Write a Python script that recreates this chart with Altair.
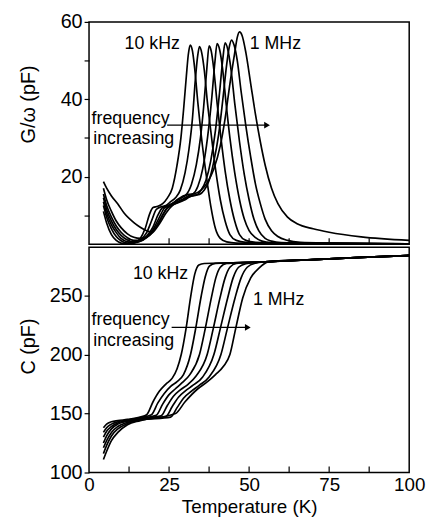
import altair as alt
import pandas as pd

freqs = ["10 kHz", "20 kHz", "50 kHz", "100 kHz", "200 kHz", "500 kHz", "1 MHz"]

# ---- G/omega (pF) curves, top panel ----
g_t_1 = [4.5, 5.5, 7, 8.5, 10, 12, 14, 16, 17.5, 19, 20, 21.5, 23, 24.5, 26, 27.5, 28.7, 29.6, 30.4, 31, 31.6, 32.3, 33, 34, 35, 36.5, 38, 39.5, 41, 43, 46, 55, 100]
g_v_1 = [11, 8, 5, 3.5, 2.8, 2.6, 2.8, 4, 6.5, 10.5, 12, 12.3, 13, 14.5, 17, 23, 30, 38, 46, 51.5, 54, 52.5, 48, 39, 31, 21, 12.5, 6.5, 4, 3.1, 2.8, 2.7, 2.6]
g_t_2 = [4.5, 5.5, 7, 8.5, 10, 12, 14, 16, 18, 19.5, 21, 22.5, 24, 25.5, 27, 28.5, 30, 31.2, 32.3, 33.2, 33.9, 34.5, 35.2, 36, 37, 38, 39.5, 41, 42.5, 44, 46, 49, 56, 100]
g_v_2 = [12.5, 9.5, 6.5, 4.5, 3.4, 2.8, 2.9, 3.6, 5.5, 8.5, 11.5, 12.2, 12.5, 13.5, 14.5, 16.5, 21, 27, 35, 45, 51, 53.6, 52, 47.5, 39, 32, 22, 14, 8.5, 5, 3.5, 3, 2.8, 2.6]
g_t_3 = [4.5, 5.5, 7, 8.5, 10, 12, 14, 16, 18, 20, 21.5, 23, 24.5, 26, 27.5, 29, 30.5, 32, 33.5, 34.8, 35.8, 36.8, 37.5, 38.2, 39, 40, 41.2, 42.5, 44, 45.5, 47, 49, 52, 60, 100]
g_v_3 = [13.5, 10.5, 7.5, 5.5, 4, 3.1, 2.9, 3.3, 4.6, 7, 10, 12, 12.4, 13, 14, 14.8, 15.5, 18, 23, 30, 38, 48, 53.8, 52.3, 47.5, 39, 30, 21.5, 14, 8.5, 5, 3.5, 3, 2.8, 2.6]
g_t_4 = [4.5, 5.5, 7, 8.5, 10, 12, 14, 16, 18, 20, 22, 23.5, 25, 26.5, 28, 29.5, 31, 32.5, 34, 35.5, 37, 38.3, 39.3, 40, 40.8, 41.7, 42.8, 44, 45.5, 47, 48.5, 50, 52, 54, 57, 65, 100]
g_v_4 = [14.5, 11.5, 8.5, 6.3, 4.8, 3.6, 3.1, 3.3, 4.3, 6.3, 9.5, 11.8, 12.5, 13, 13.6, 14.3, 15, 15.5, 17.5, 22, 30, 40, 49.5, 54.4, 52.8, 48, 39, 30, 21, 14, 9, 6, 4.2, 3.3, 2.9, 2.7, 2.6]
g_t_5 = [4.5, 5.5, 7, 8.5, 10, 12, 14, 16, 18, 20, 22, 24, 26, 27.5, 29, 30.5, 32, 33.5, 35, 36.5, 38, 39.5, 40.8, 41.8, 42.5, 43.3, 44.3, 45.5, 47, 48.5, 50, 51.5, 53, 55, 57, 60, 70, 100]
g_v_5 = [15.5, 12.5, 9.5, 7.2, 5.6, 4.2, 3.5, 3.5, 4.2, 5.8, 8.5, 11.5, 12.6, 13.2, 13.8, 14.5, 15, 15.2, 16.5, 19, 24, 32, 42, 50.5, 54.6, 53, 48, 39, 29, 20.5, 14, 9, 6, 4, 3.3, 2.9, 2.7, 2.6]
g_t_6 = [4.5, 5.5, 7, 8.5, 10, 12, 14, 16, 18, 20, 22, 24, 26, 28, 30, 31.5, 33, 34.5, 36, 37.5, 39, 40.5, 41.8, 43, 43.8, 44.5, 45.3, 46.3, 47.5, 49, 50.5, 52, 53.5, 55, 57, 59, 62, 66, 75, 100]
g_v_6 = [17, 14, 11, 8.5, 6.8, 5.2, 4.3, 4, 4.4, 5.6, 7.8, 10.5, 12.5, 13.3, 14, 14.8, 15.2, 15.4, 16.5, 19, 24, 31, 40, 49, 53.5, 55.3, 54, 50, 42, 33, 25, 18, 13, 9, 6, 4.5, 3.5, 3, 2.8, 2.6]
g_t_7 = [4.5, 5.5, 7, 9, 11, 14, 16, 18, 19.5, 21, 23, 25, 27, 29, 31, 33, 35, 37, 39, 41, 42.5, 44, 45.5, 46.3, 47, 47.8, 49, 50.5, 52, 53.5, 55, 57, 59, 62, 65, 70, 75, 85, 100]
g_v_7 = [18.7, 17, 15, 12.9, 10.5, 8.1, 6.9, 6, 5.7, 7, 10, 12.5, 13.5, 14.5, 15.4, 15.6, 16.5, 18.5, 22, 28, 35, 44, 52, 56, 57.4, 56.5, 52, 44, 36, 29, 23, 17, 13, 9.5, 7.8, 6.5, 5.6, 4.4, 3.5]

# ---- C (pF) curves, bottom panel ----
c_t_1 = [4.5, 5.5, 7, 9, 12, 16, 18, 20, 22, 24, 26, 27.5, 28.8, 30.3, 31.8, 33, 34.3, 36, 45, 55, 70, 85, 100]
c_v_1 = [138, 141, 143, 144, 145, 147, 149, 160, 169, 175, 180, 188, 200, 222, 250, 268, 276, 277.2, 277.8, 278.6, 280.5, 282.3, 284]
c_t_2 = [4.5, 5.5, 7, 9, 12, 16, 19.5, 21.5, 23.5, 25.5, 27.5, 29.5, 31.7, 33.3, 35, 36.3, 37.6, 39.5, 45, 55, 70, 85, 100]
c_v_2 = [134, 138, 141, 143, 144.5, 146.5, 149, 159, 167, 173, 177, 183, 200, 222, 249, 266, 275, 277.3, 277.8, 278.6, 280.5, 282.3, 284]
c_t_3 = [4.5, 5.5, 7, 9, 12, 16, 21, 23, 25, 27, 29, 31.5, 34.5, 36.3, 38.2, 39.6, 41, 43, 48, 55, 70, 85, 100]
c_v_3 = [130, 135, 139, 142, 144, 146, 148.5, 158, 166, 171, 176, 183, 200, 222, 248, 265, 274, 277.3, 277.9, 278.6, 280.5, 282.3, 284]
c_t_4 = [4.5, 5.5, 7, 9, 12, 16, 22.5, 24.5, 26.5, 28.5, 31, 33.5, 36.9, 38.8, 40.9, 42.5, 44, 46, 50, 55, 70, 85, 100]
c_v_4 = [125, 131, 137, 141, 143.5, 145.5, 148, 157, 165, 170, 175, 182, 200, 222, 248, 265, 274, 277.2, 278, 278.6, 280.5, 282.3, 284]
c_t_5 = [4.5, 5.5, 7, 9, 12, 16, 24, 26, 28, 30, 32.5, 35.5, 39, 41, 43.3, 45, 46.7, 49, 52, 55, 70, 85, 100]
c_v_5 = [121, 127, 134, 139, 142.5, 145, 147.5, 156, 164, 169, 174, 181, 200, 222, 248, 265, 274, 277, 278, 278.6, 280.5, 282.3, 284]
c_t_6 = [4.5, 5.5, 7, 9, 12, 16, 25.5, 27.5, 29.5, 32, 34.5, 37.5, 41.2, 43.2, 45.6, 47.5, 49.4, 52, 55, 70, 85, 100]
c_v_6 = [116, 123, 131, 137, 141.5, 144.5, 147, 155, 163, 169, 174, 181, 200, 222, 248, 265, 274, 277.5, 278.6, 280.5, 282.3, 284]
c_t_7 = [4.5, 5.5, 7, 9, 12, 16, 27, 30, 34, 37, 39.5, 42, 44, 45.8, 48, 50.5, 53, 56, 70, 85, 100]
c_v_7 = [111, 118, 127, 134, 140.5, 144, 150, 160, 171, 177, 183, 190, 200, 222, 248, 265, 273, 278.5, 280.5, 282.3, 284]

# ---- ticks ----
x_ticks = [12.5, 25, 37.5, 50, 62.5, 75, 87.5]
x_label_ticks = [0, 25, 50, 75, 100]
g_ticks = [10, 20, 30, 40, 50, 60]
c_ticks = [100, 125, 150, 175, 200, 225, 250, 275]

# ---- annotations ----
top_labels = ["10 kHz", "1 MHz", "frequency", "increasing"]
top_label_t = [11.1, 50.2, 0.8, 1.3]
top_label_v = [53.1, 53.1, 33.6, 28.4]
top_arrow = {"t1": [24.4], "t2": [55.0], "thead": [55.6], "v": [33.3]}

bot_labels = ["10 kHz", "1 MHz", "frequency", "increasing"]
bot_label_t = [13.7, 51.2, 0.8, 1.3]
bot_label_v = [264.2, 241.9, 225.3, 207.2]
bot_arrow = {"t1": [25.8], "t2": [49.0], "thead": [49.6], "v": [223.0]}

FONT = "Liberation Sans"
W, H1, H2 = 324, 225, 228


def long_table(temps, vals):
    rows = []
    for f, ts, vs in zip(freqs, temps, vals):
        for t, v in zip(ts, vs):
            rows.append({"freq": f, "T": t, "v": v})
    return pd.DataFrame(rows)


g_df = long_table([g_t_1, g_t_2, g_t_3, g_t_4, g_t_5, g_t_6, g_t_7],
                  [g_v_1, g_v_2, g_v_3, g_v_4, g_v_5, g_v_6, g_v_7])
c_df = long_table([c_t_1, c_t_2, c_t_3, c_t_4, c_t_5, c_t_6, c_t_7],
                  [c_v_1, c_v_2, c_v_3, c_v_4, c_v_5, c_v_6, c_v_7])

x_scale = alt.Scale(domain=[0, 100], nice=False, zero=False)
g_scale = alt.Scale(domain=[2.5, 60], nice=False, zero=False)
c_scale = alt.Scale(domain=[100, 291], nice=False, zero=False)


def panel(df, y_scale, y_axis, x_axis, h, labels, label_t, label_v, arrow):
    lines = alt.Chart(df).mark_line(
        color="black", strokeWidth=1.7, interpolate="monotone", clip=True
    ).encode(
        x=alt.X("T:Q", scale=x_scale, axis=x_axis),
        y=alt.Y("v:Q", scale=y_scale, axis=y_axis),
        detail="freq:N",
        order="T:Q",
    )
    ticks = alt.Chart(pd.DataFrame({"T": x_ticks})).mark_rule(
        color="black", strokeWidth=1.2
    ).encode(x=alt.X("T:Q", scale=x_scale), y=alt.value(h), y2=alt.value(h - 6))
    text = alt.Chart(pd.DataFrame({"label": labels, "T": label_t, "v": label_v})).mark_text(
        align="left", baseline="alphabetic", font=FONT, fontSize=18, color="black"
    ).encode(x=alt.X("T:Q", scale=x_scale), y=alt.Y("v:Q", scale=y_scale), text="label:N")
    arrow_df = pd.DataFrame(arrow)
    shaft = alt.Chart(arrow_df).mark_rule(color="black", strokeWidth=1.3).encode(
        x=alt.X("t1:Q", scale=x_scale), x2="t2:Q", y=alt.Y("v:Q", scale=y_scale)
    )
    head = alt.Chart(arrow_df).mark_point(
        shape="triangle-right", filled=True, size=45, color="black", opacity=1
    ).encode(x=alt.X("thead:Q", scale=x_scale), y=alt.Y("v:Q", scale=y_scale))
    return alt.layer(lines, ticks, text, shaft, head).properties(width=W, height=h)


top_y_axis = alt.Axis(
    values=g_ticks, labelExpr="datum.value % 20 === 0 ? datum.label : ''",
    title="G/ω (pF)", titleX=-61, titleY=83, titleBaseline="middle",
    tickSize=5, labelPadding=2, domain=False, grid=False, labelFlush=False,
)
bot_y_axis = alt.Axis(
    values=c_ticks, labelExpr="datum.value % 50 === 0 ? datum.label : ''",
    title="C (pF)", titleX=-61, titleY=100, titleBaseline="middle",
    tickSize=5, labelPadding=2, domain=False, grid=False, labelFlush=False,
)
top_x_axis = alt.Axis(labels=False, ticks=False, tickSize=0, domain=False, grid=False, title=None)
bot_x_axis = alt.Axis(
    values=x_label_ticks, ticks=False, tickSize=0, labelPadding=3, domain=False, grid=False,
    title="Temperature (K)", titlePadding=3, labelFlush=False,
    labelFontSize=19, titleFontSize=19,
)

top = panel(g_df, g_scale, top_y_axis, top_x_axis, H1, top_labels, top_label_t, top_label_v, top_arrow)
bottom = panel(c_df, c_scale, bot_y_axis, bot_x_axis, H2, bot_labels, bot_label_t, bot_label_v, bot_arrow)

chart = alt.vconcat(top, bottom, spacing=0).properties(
    padding={"left": 10, "top": 0, "right": 0, "bottom": 0},
    background="white",
).configure_view(
    stroke="black", strokeWidth=1.5
).configure_axis(
    labelFont=FONT, titleFont=FONT, labelFontSize=20, titleFontSize=20,
    labelColor="black", titleColor="black", tickColor="black", tickWidth=1.2,
    titleFontWeight="normal",
)

chart.save("out.html", embed_options={"renderer": "svg", "actions": False})
